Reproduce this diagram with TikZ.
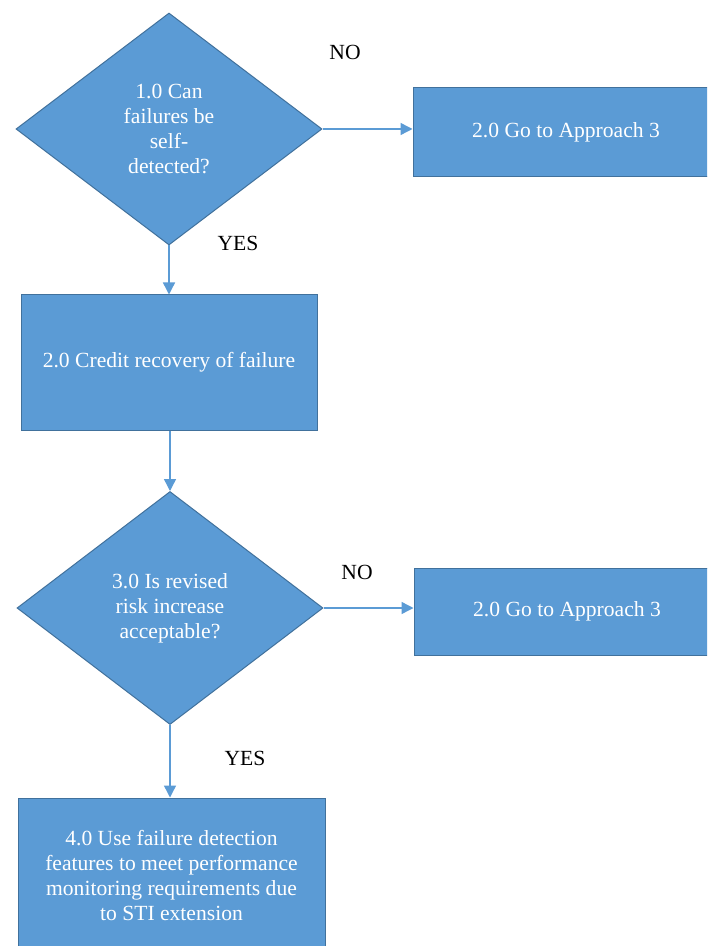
\documentclass[tikz,border=0pt]{standalone}
\usepackage{fontspec}
\setmainfont{Liberation Serif}
\usetikzlibrary{shapes.geometric,arrows.meta}
\definecolor{boxfill}{HTML}{5B9BD5}
\definecolor{boxline}{HTML}{41719C}
\begin{document}
\begin{tikzpicture}[x=0.5pt,y=-0.5pt,
 every node/.style={font=\fontsize{10.8}{12.5}\selectfont},
 dec/.style={diamond, fill=boxfill, draw=boxline, line width=0.5pt, text=white, align=center, inner sep=0pt, minimum width=153pt, minimum height=116pt},
 proc/.style={rectangle, fill=boxfill, draw=boxline, line width=0.5pt, text=white, align=center, inner sep=0pt},
 conn/.style={draw=boxfill, line width=0.7pt, -{Triangle[length=6pt,width=6pt]}},
 lab/.style={text=black}]
\clip (0,0) rectangle (707,946);
\fill[white] (0,0) rectangle (707,946);
\node[dec] (d1) at (169,129) {1.0 Can\\failures be\\self-\\detected?};
\node[proc, minimum width=153pt, minimum height=44.5pt] (b1) at (566,132.5) {2.0 Go to Approach 3};
\node[proc, minimum width=148pt, minimum height=67.5pt] (b2) at (169,362.5) {2.0 Credit recovery of failure};
\node[dec, minimum height=116.5pt] (d2) at (170,608) {3.0 Is revised\\risk increase\\acceptable?};
\node[proc, minimum width=153pt, minimum height=43.5pt] (b3) at (567,611.5) {2.0 Go to Approach 3};
\node[proc, minimum width=153.5pt, minimum height=77pt] (b4) at (171.5,875) {4.0 Use failure detection\\features to meet performance\\monitoring requirements due\\to STI extension};
\node[lab] (no1) at (345,52) {NO};
\node[lab] (yes1) at (238,243) {YES};
\node[lab] (no2) at (357,572) {NO};
\node[lab] (yes2) at (245,758) {YES};
\draw[conn] (d1.east) -- (d1.east -| b1.west);
\draw[conn] (d1.south) -- (d1.south |- b2.north);
\draw[conn] (d2.north |- b2.south) -- (d2.north);
\draw[conn] (d2.east) -- (d2.east -| b3.west);
\draw[conn] (d2.south) -- (d2.south |- b4.north);
\end{tikzpicture}
\end{document}
